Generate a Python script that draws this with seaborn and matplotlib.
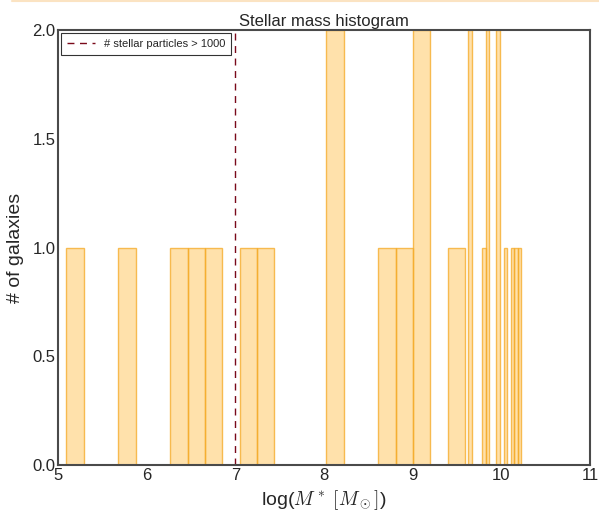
import matplotlib
matplotlib.use("Agg")
import matplotlib.pyplot as plt
import numpy as np
import seaborn as sns
from matplotlib.lines import Line2D

# log stellar masses of the galaxies
log_mass = [5.20, 5.77, 6.35, 6.55, 6.75, 7.13, 7.33, 8.10, 8.12,
            8.70, 8.90, 9.08, 9.10, 9.48,
            9.645, 9.650, 9.800, 9.840, 9.845, 9.960, 9.965,
            10.040, 10.120, 10.160, 10.200]

# bin edges: coarse bins at low mass, fine bins at the high-mass end
coarse_edges = [5.094 + 0.1955 * k for k in range(24)]
fine_edges = [9.625 + 0.04 * k for k in range(16)]
bin_edges = coarse_edges + fine_edges

particle_cut = 7.0

sns.set_style("white")
plt.rcParams["font.family"] = ["Liberation Sans", "DejaVu Sans"]
plt.rcParams["mathtext.fontset"] = "cm"

fig = plt.figure(figsize=(5.99, 5.11), dpi=100)
ax = fig.add_axes([0.097, 0.090, 0.888, 0.851])

sns.histplot(x=log_mass, bins=bin_edges, ax=ax,
             color="orange", alpha=0.33,
             edgecolor=(0.96, 0.68, 0.18, 0.8), linewidth=1.0)

ax.axvline(particle_cut, color="#7a0a1a", linestyle="--", linewidth=1.0,
           dashes=(5, 4), label="# stellar particles > 1000")

ax.set_xlim(5, 11)
ax.set_ylim(0, 2)
ax.set_yticks(np.arange(0, 2.01, 0.5))
ax.set_xticks(range(5, 12))
ax.tick_params(labelsize=12, length=0, pad=2)
ax.set_title("Stellar mass histogram", fontsize=12, pad=3)
ax.set_xlabel(r"log($M^*$ $[M_\odot]$)", fontsize=14, labelpad=4)
ax.set_ylabel("# of galaxies", fontsize=14, labelpad=6)

for s in ax.spines.values():
    s.set_color("#4a4a4a")
    s.set_linewidth(1.5)

leg = ax.legend(loc="upper left", fontsize=8, frameon=True, fancybox=False,
                handlelength=2.5, borderpad=0.5, borderaxespad=0.3)
leg.get_frame().set_edgecolor("black")
leg.get_frame().set_linewidth(0.8)

fig.add_artist(Line2D([0.02, 1.0], [0.998, 0.998], color="#fbe3c2",
                      linewidth=1.5, transform=fig.transFigure))

fig.savefig("out.png", dpi=100)
